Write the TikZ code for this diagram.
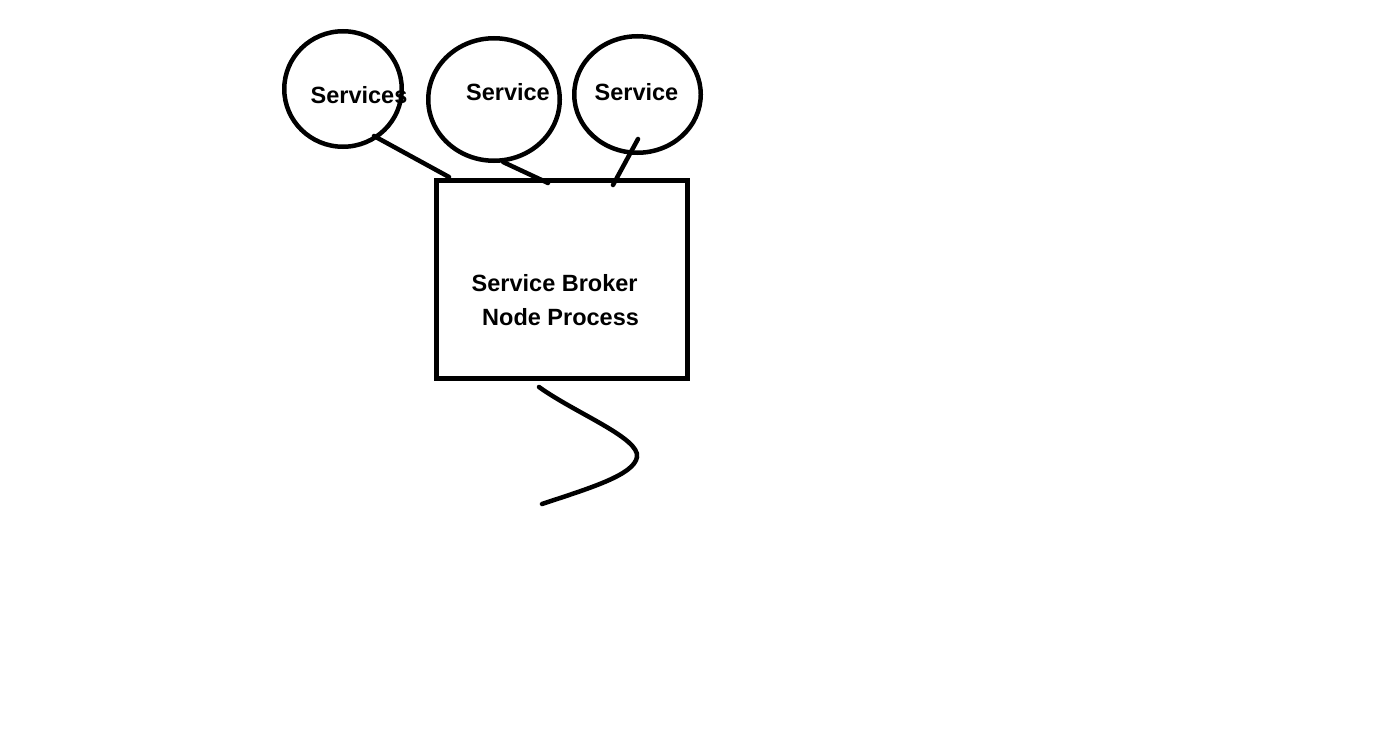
\documentclass[tikz,border=0pt]{standalone}
\usepackage{fontspec}
\setmainfont{Liberation Sans}
\usetikzlibrary{
		calc,
		positioning,
		shapes.geometric
	}
\tikzset{
		bubble/.style={draw=\ldraw, ellipse, line width=4.5pt, inner sep=0pt},
		brokerbox/.style={draw=\ldraw, rectangle, line width=5pt, inner sep=0pt},
		tag/.style={anchor=base, inner sep=0pt, font=\fontsize{23.5}{34}\selectfont\bfseries},
		wire/.style={\ldraw, line width=4.5pt, line cap=round}
	}
\newcommand{\ldraw}{black}

\begin{document}
\begin{tikzpicture}[x=1pt, y=-1pt]
		\useasboundingbox (0,0) rectangle (1387,736);
		\node[bubble, minimum width=117.5pt, minimum height=115.5pt] (s1) at (343,89) {};
		\node[bubble, minimum width=131.5pt, minimum height=122.5pt] (s2) at (494,99.5) {};
		\node[bubble, minimum width=126.5pt, minimum height=116.5pt] (s3) at (637.5,94.5) {};
		\node[tag] (s1text) at (359,103) {Services};
		\node[tag] (s2text) at (508,100) {Service};
		\node[tag] (s3text) at (636.5,100) {Service};
		\node[brokerbox, minimum width=251pt, minimum height=198pt] (broker) at (562,279.5) {};
		\node[tag, anchor=base west] (brokertop) at (471.5,291.5) {Service Broker};
		\node[tag, anchor=base west] (brokerbot) at (482,325.5) {Node Process};
		\draw[wire] ($(s1.center)+(31,47)$) -- ($(broker.north west)+(15,-1)$);
		\draw[wire] ($(s2.center)+(9,62.5)$) -- ($(broker.north west)+(114,5)$);
		\draw[wire] ($(s3.center)+(0.5,44.5)$) -- ($(broker.north west)+(179,7)$);
		\coordinate (tail) at (542,504);
		\draw[wire] ($(broker.south west)+(105,6)$) .. controls (575,413) and (640,438) .. (637,457)
							 .. controls (634,475) and (590,488) .. (tail);
	\end{tikzpicture}
\end{document}
